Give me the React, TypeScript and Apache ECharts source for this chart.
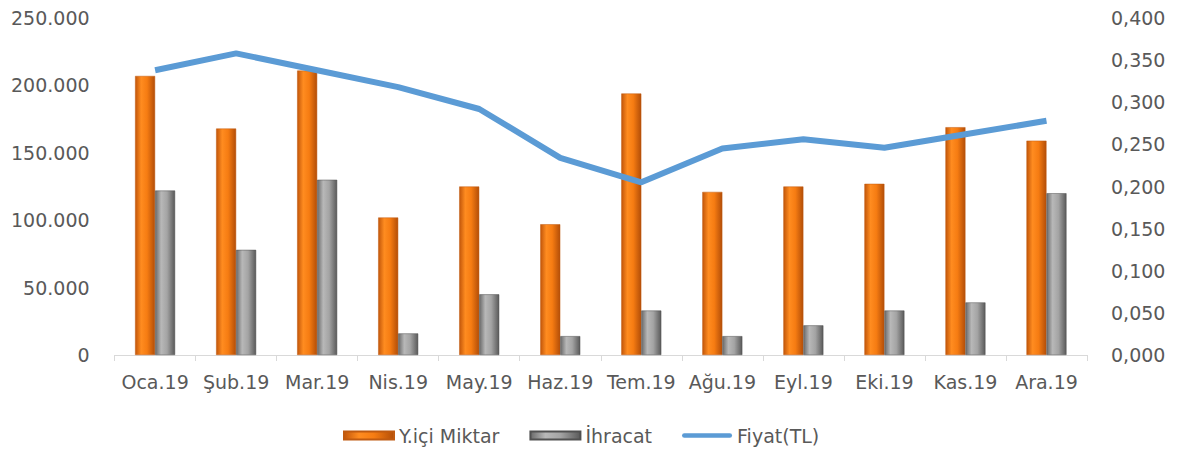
import React, { useEffect, useRef } from "react";
import * as echarts from "echarts";

const categories = ["Oca.19", "Şub.19", "Mar.19", "Nis.19", "May.19", "Haz.19", "Tem.19", "Ağu.19", "Eyl.19", "Eki.19", "Kas.19", "Ara.19"];
const yiciMiktar = [207000, 168000, 211000, 102000, 125000, 97000, 194000, 121000, 125000, 127000, 169000, 159000];
const ihracat = [122000, 78000, 130000, 16000, 45000, 14000, 33000, 14000, 22000, 33000, 39000, 120000];
const fiyat = [0.338, 0.358, 0.338, 0.318, 0.292, 0.234, 0.205, 0.245, 0.256, 0.246, 0.262, 0.278];

const FONT = "DejaVu Sans";
const TXT = "#595959";
const FS = 19;

const orangeGrad = new echarts.graphic.LinearGradient(0, 0, 1, 0, [
  { offset: 0, color: "#c2560a" },
  { offset: 0.3, color: "#ff8c20" },
  { offset: 0.6, color: "#f67c12" },
  { offset: 1, color: "#b34e08" },
]);
const greyGrad = new echarts.graphic.LinearGradient(0, 0, 1, 0, [
  { offset: 0, color: "#6a6a6a" },
  { offset: 0.3, color: "#b8b8b8" },
  { offset: 0.6, color: "#a4a4a4" },
  { offset: 1, color: "#5a5a5a" },
]);

const lineIcon = "path://M2.5,0 L53.5,0 A2.5,2.5 0 0 1 53.5,5 L2.5,5 A2.5,2.5 0 0 1 2.5,0 Z";

const fmtThousands = (v: number) => {
  if (v === 0) return "0";
  return String(v).replace(/\B(?=(\d{3})+(?!\d))/g, ".");
};

export default function App() {
  const ref = useRef<HTMLDivElement>(null);
  useEffect(() => {
    if (!ref.current) return;
    const chart = echarts.init(ref.current, null, { renderer: "svg" });
    chart.setOption({
      animation: false,
      backgroundColor: "#ffffff",
      textStyle: { fontFamily: FONT },
      grid: { left: 103, right: 83, top: 10, bottom: 100, containLabel: false },
      legend: {
        top: 418,
        left: 335,
        padding: 0,
        itemGap: 30,
        itemWidth: 50,
        itemHeight: 8,
        textStyle: { color: TXT, fontSize: FS, fontFamily: FONT },
        data: [
          { name: "Y.içi Miktar", icon: "rect" },
          { name: "İhracat", icon: "rect" },
          { name: "Fiyat(TL)", icon: lineIcon },
        ],
      },
      xAxis: {
        type: "category",
        data: categories,
        axisLine: { show: true, lineStyle: { color: "#d9d9d9", width: 1 } },
        axisTick: { show: true, length: 6, lineStyle: { color: "#d9d9d9" } },
        axisLabel: { color: TXT, fontSize: FS, fontFamily: FONT, margin: 17, interval: 0, hideOverlap: false },
      },
      yAxis: [
        {
          type: "value",
          min: 0,
          max: 250000,
          interval: 50000,
          splitLine: { show: false },
          axisLine: { show: false },
          axisTick: { show: false },
          axisLabel: { color: TXT, fontSize: FS, fontFamily: FONT, margin: 25, formatter: fmtThousands },
        },
        {
          type: "value",
          min: 0,
          max: 0.4,
          interval: 0.05,
          splitLine: { show: false },
          axisLine: { show: false },
          axisTick: { show: false },
          axisLabel: {
            color: TXT,
            fontSize: FS,
            fontFamily: FONT,
            margin: 24,
            formatter: (v: number) => v.toFixed(3).replace(".", ","),
          },
        },
      ],
      series: [
        {
          name: "Y.içi Miktar",
          type: "bar",
          data: yiciMiktar,
          barWidth: 20,
          barGap: "0%",
          itemStyle: { color: orangeGrad, borderColor: "#c05a10", borderWidth: 0.5 },
        },
        {
          name: "İhracat",
          type: "bar",
          data: ihracat,
          barWidth: 20,
          barGap: "0%",
          itemStyle: { color: greyGrad, borderColor: "#505050", borderWidth: 0.5 },
        },
        {
          name: "Fiyat(TL)",
          type: "line",
          yAxisIndex: 1,
          data: fiyat,
          symbol: "none",
          lineStyle: { color: "#5b9bd5", width: 6 },
          itemStyle: { color: "#5b9bd5" },
        },
      ],
    });
    return () => chart.dispose();
  }, []);
  return <div ref={ref} style={{ width: 1162, height: 447, marginBottom: -8 }} />;
}
